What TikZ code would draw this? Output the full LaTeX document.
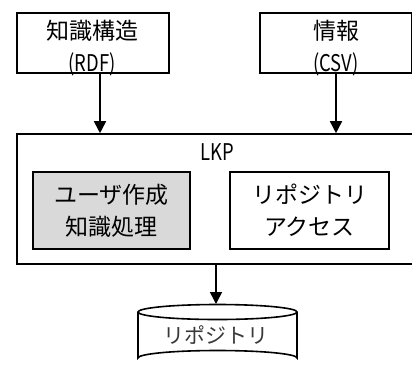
\documentclass[tikz,border=0pt]{standalone}
\usepackage{fontspec}
\setmainfont{Noto Sans CJK JP}
\newfontfamily\narrowlat[FakeStretch=0.8]{Noto Sans CJK JP}
\usetikzlibrary{arrows.meta}
\begin{document}
\begin{tikzpicture}[x=1pt,y=-1pt,
  box/.style={draw,line width=1.6pt,minimum width=#1,inner sep=0pt,align=center,font=\fontsize{23}{32}\selectfont},
  txt/.style={inner sep=0pt,align=center,font=\fontsize{23}{32}\selectfont},
  arr/.style={line width=1.6pt,-{Triangle[length=12pt,width=12pt]}}]
\useasboundingbox (0,0) rectangle (412,368);
\node[box=152pt,minimum height=60pt] (k) at (93,43) {};
\node[txt] (kt) at (92,48) {知識構造\\{\narrowlat (RDF)}};
\node[box=152pt,minimum height=60pt] (i) at (336,43) {};
\node[txt] (it) at (336,48) {情報\\{\narrowlat (CSV)}};
\node[box=396pt,minimum height=130pt] (lkp) at (215,199) {};
\node[font=\fontsize{23}{26}\selectfont\narrowlat,inner sep=0pt] (lab) at (217,152) {LKP};
\node[box=157pt,minimum height=77pt,fill=black!15] (u) at (111.5,210.5) {ユーザ作成\\知識処理};
\node[box=159pt,minimum height=77pt] (r) at (309.5,210.5) {リポジトリ\\アクセス};
\coordinate (a1) at (100,73);
\coordinate (repotop) at (216,304);
\draw[arr] (a1) -- (a1 |- lkp.north);
\draw[arr] (i.south) -- (i.south |- lkp.north);
\draw[arr] (lkp.south -| repotop) -- (repotop);
\draw[line width=1.6pt] (138,312) -- (138,358) arc[start angle=180,end angle=360,x radius=79.5,y radius=7.5] -- (297,312);
\draw[line width=1.6pt] (217.5,312) ellipse[x radius=79.5,y radius=7.5];
\node[font=\fontsize{21}{24}\selectfont,text=black!78,inner sep=0pt] (repo) at (216,335) {リポジトリ};
\end{tikzpicture}
\end{document}
